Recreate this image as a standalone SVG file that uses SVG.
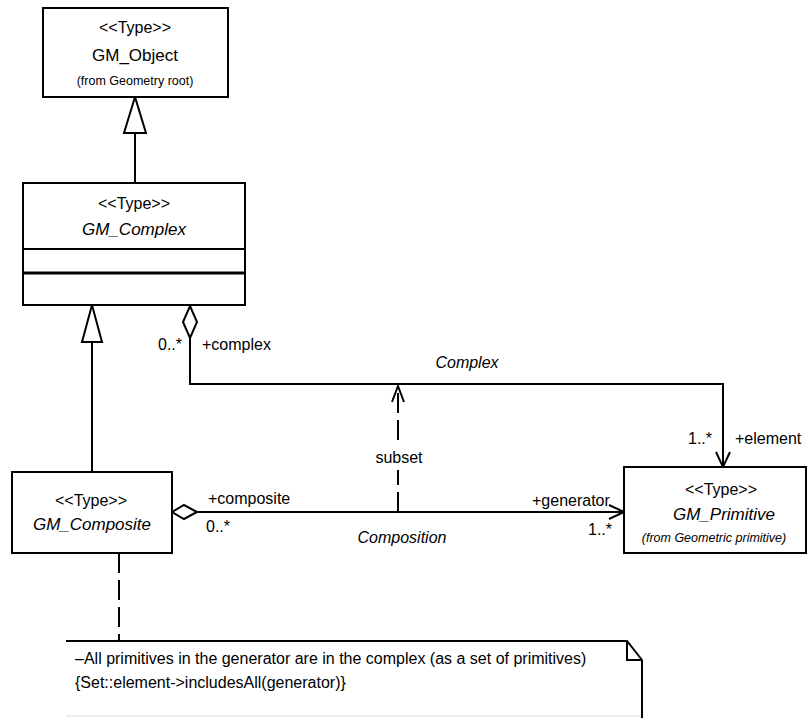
<svg xmlns="http://www.w3.org/2000/svg" width="812" height="718" viewBox="0 0 812 718">
<style>
  text { font-family: "Liberation Sans", Arial, sans-serif; fill: #000; }
  .box { fill: #fff; stroke: #000; stroke-width: 2; }
  .ln { fill: none; stroke: #000; stroke-width: 2; }
  .dash { stroke-dasharray: 20 7; }
  .st { font-size: 16px; text-anchor: middle; }
  .nm { font-size: 17px; text-anchor: middle; }
  .it { font-style: italic; }
  .sm { font-size: 12.5px; text-anchor: middle; }
  .lb { font-size: 16px; }
  .nt { font-size: 16px; }
</style>
<defs>
  <marker id="open" markerWidth="20" markerHeight="20" refX="16" refY="8" orient="auto" markerUnits="userSpaceOnUse">
    <path d="M1,1 L16,8 L1,15" fill="none" stroke="#000" stroke-width="2"/>
  </marker>
</defs>
<rect width="812" height="718" fill="#fff"/>

<g id="connectors">
  <line class="ln" x1="135" y1="133" x2="135" y2="183"/>
  <polygon points="135,97 124,133 146,133" fill="#fff" stroke="#000" stroke-width="2"/>
  <line class="ln" x1="92" y1="342" x2="92" y2="472"/>
  <polygon points="92,305 82,342 102,342" fill="#fff" stroke="#000" stroke-width="2"/>
  <path class="ln" d="M190,338 V384 H723 V467" marker-end="url(#open)"/>
  <polygon points="190,306 197,322 190,338 183,322" fill="#fff" stroke="#000" stroke-width="2"/>
  <text class="lb" x="158" y="350">0..*</text>
  <text class="lb" x="202" y="350">+complex</text>
  <text class="lb it" x="467" y="368" text-anchor="middle">Complex</text>
  <text class="lb" x="688" y="444">1..*</text>
  <text class="lb" x="735" y="444">+element</text>
  <path class="ln" d="M197,512 H624" marker-end="url(#open)"/>
  <polygon points="172,512 184,505 197,512 184,519" fill="#fff" stroke="#000" stroke-width="2"/>
  <text class="lb" x="208" y="504">+composite</text>
  <text class="lb" x="206" y="532">0..*</text>
  <text class="lb" x="532" y="506">+generator</text>
  <text class="lb" x="588" y="535">1..*</text>
  <text class="lb it" x="402" y="543" text-anchor="middle">Composition</text>
  <line class="ln dash" x1="398" y1="440" x2="398" y2="386"/>
  <line class="ln dash" x1="398" y1="512" x2="398" y2="470"/>
  <path class="ln" d="M392,402 L398,386 L404,402"/>
  <text class="lb" x="399" y="463" text-anchor="middle">subset</text>
  <line class="ln dash" x1="119" y1="553" x2="119" y2="641"/>
</g>

<g id="GM_Object">
  <rect class="box" x="43" y="8" width="185" height="89"/>
  <text class="st" x="135" y="33">&lt;&lt;Type&gt;&gt;</text>
  <text class="nm" x="135" y="61">GM_Object</text>
  <text class="sm" x="135" y="85">(from Geometry root)</text>
</g>

<g id="GM_Complex">
  <rect class="box" x="23" y="183" width="222" height="122"/>
  <line class="ln" x1="23" y1="249" x2="245" y2="249"/>
  <line x1="23" y1="273" x2="245" y2="273" stroke="#000" stroke-width="3"/>
  <text class="st" x="134" y="209">&lt;&lt;Type&gt;&gt;</text>
  <text class="nm it" x="134" y="235">GM_Complex</text>
</g>

<g id="GM_Composite">
  <rect class="box" x="12" y="472" width="160" height="81"/>
  <text class="st" x="91" y="506">&lt;&lt;Type&gt;&gt;</text>
  <text class="nm it" x="92" y="530">GM_Composite</text>
</g>

<g id="GM_Primitive">
  <rect class="box" x="624" y="467" width="182" height="86"/>
  <text class="st" x="721" y="495">&lt;&lt;Type&gt;&gt;</text>
  <text class="nm it" x="724" y="520">GM_Primitive</text>
  <text class="sm it" x="714" y="542">(from Geometric primitive)</text>
</g>

<g id="note">
  <path d="M66,641 H627 L642,660 V718" fill="#fff" stroke="#000" stroke-width="2"/>
  <path d="M627,641 V660 H642" fill="none" stroke="#000" stroke-width="2"/>
  <line x1="66" y1="716" x2="641" y2="716" stroke="#ddd" stroke-width="1"/>
  <text class="nt" x="75" y="664">–All primitives in the generator are in the complex (as a set of primitives)</text>
  <text class="nt" x="75" y="688">{Set::element-&gt;includesAll(generator)}</text>
</g>
</svg>
